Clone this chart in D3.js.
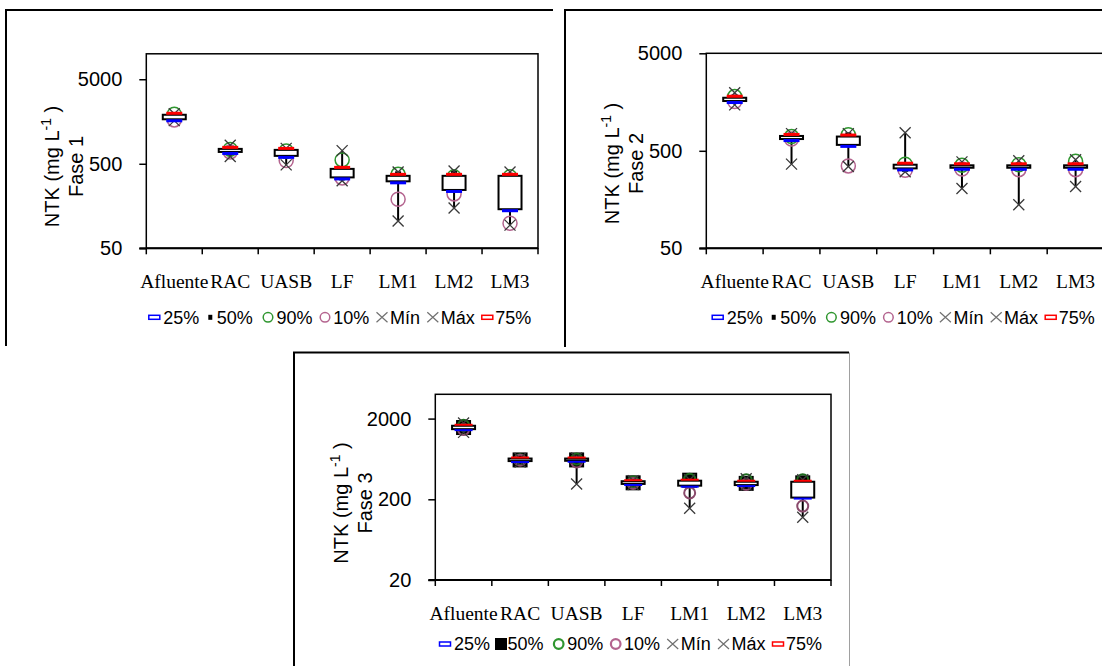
<!DOCTYPE html>
<html>
<head>
<meta charset="utf-8">
<script src="https://cdn.jsdelivr.net/npm/d3@7"></script>
<style>
  html, body { margin: 0; padding: 0; background: #fff; }
  svg { display: block; }
</style>
</head>
<body>
<svg id="chart" width="1102" height="666"></svg>
<script>
// Sampling points along the treatment line
const categories = ["Afluente", "RAC", "UASB", "LF", "LM1", "LM2", "LM3"];
const legendLabels = ["25%", "50%", "90%", "10%", "Mín", "Máx", "75%"];

// NTK (mg/L) percentiles, Fase 1
const f1P25 = [1680, 690, 620, 345, 310, 245, 145];
const f1P50 = [1800, 720, 625, 345, 375, 385, 360];
const f1P90 = [1930, 740, 710, 555, 375, 350, 350];
const f1P10 = [1650, 690, 545, 340, 190, 220, 99];
const f1Min = [1620, 610, 485, 315, 105, 150, 94];
const f1Max = [1950, 830, 760, 715, 400, 410, 400];
const f1P75 = [1900, 750, 730, 435, 360, 360, 360];
const f1Ticks = [50, 500, 5000];

// Fase 2
const f2P25 = [1620, 660, 575, 330, 335, 335, 335];
const f2P50 = [1700, 690, 720, 325, 345, 345, 345];
const f2P90 = [1800, 700, 730, 365, 355, 360, 390];
const f2P10 = [1600, 660, 350, 315, 325, 320, 320];
const f2Min = [1480, 365, 345, 305, 205, 140, 215];
const f2Max = [1970, 750, 750, 765, 385, 395, 405];
const f2P75 = [1750, 710, 700, 360, 355, 355, 355];
const f2Ticks = [50, 500, 5000];

// Fase 3
const f3P25 = [1480, 595, 600, 310, 295, 300, 210];
const f3P50 = [1550, 615, 615, 320, 345, 315, 320];
const f3P90 = [1650, 620, 630, 330, 355, 350, 350];
const f3P10 = [1460, 610, 580, 315, 240, 305, 165];
const f3Min = [1350, 580, 310, 305, 155, 300, 120];
const f3Max = [1760, 640, 650, 340, 350, 360, 350];
const f3P75 = [1630, 640, 640, 335, 340, 330, 330];
const f3Ticks = [20, 200, 2000];

const COLORS = {
  p25: "#0000ff",
  p75: "#ff0000",
  p50: "#000000",
  p90: "#2f962f",
  p10: "#b4648f",
  xmark: "#3a3a3a"
};
const SANS = "'Liberation Sans', Arial, sans-serif";
const SERIF = "'Liberation Serif', 'Times New Roman', serif";

const panels = [
  {
    title: "Fase 1", ticks: f1Ticks, domain: [50, 10000],
    p25: f1P25, p50: f1P50, p90: f1P90, p10: f1P10, min: f1Min, max: f1Max, p75: f1P75,
    left: 146.3, right: 538, top: 53.8, bottom: 248.3,
    titleY: 166.5, legendX: 148.3, legendY: 317.3,
    squareSize: 6, circleR: 7, circleW: 1.5, green: COLORS.p90, pink: COLORS.p10,
    dashW: 16, dashH: 3,
    frame: [[6, 346], [6, 10], [553, 10]]
  },
  {
    title: "Fase 2", ticks: f2Ticks, domain: [50, 5000],
    p25: f2P25, p50: f2P50, p90: f2P90, p10: f2P10, min: f2Min, max: f2Max, p75: f2P75,
    left: 706.3, right: 1104, top: 53.3, bottom: 248.3,
    titleY: 163.5, legendX: 711.7, legendY: 317.3,
    squareSize: 6, circleR: 7, circleW: 1.5, green: COLORS.p90, pink: COLORS.p10,
    dashW: 16, dashH: 3,
    frame: [[565, 347], [565, 10], [1102, 10]]
  },
  {
    title: "Fase 3", ticks: f3Ticks, domain: [20, 4000],
    p25: f3P25, p50: f3P50, p90: f3P90, p10: f3P10, min: f3Min, max: f3Max, p75: f3P75,
    left: 435.3, right: 831, top: 394.3, bottom: 580,
    titleY: 503, legendX: 439, legendY: 644,
    squareSize: 15, circleR: 5.5, circleW: 2, green: "#1e6b1e", pink: "#8a4a6c",
    dashW: 18, dashH: 2,
    frame: [[294, 666], [294, 352.5], [849, 352.5]],
    rightEdge: [[849.5, 352.5], [849.5, 666]]
  }
];

const svg = d3.select("#chart");
const xMark = (sx, sy) => `M${-sx},${-sy}L${sx},${sy}M${-sx},${sy}L${sx},${-sy}`;

panels.forEach(p => {
  const g = svg.append("g");

  // panel border
  g.append("path")
    .attr("d", d3.line()(p.frame))
    .attr("fill", "none").attr("stroke", "#000").attr("stroke-width", 2);
  if (p.rightEdge) {
    g.append("path")
      .attr("d", d3.line()(p.rightEdge))
      .attr("fill", "none").attr("stroke", "#a0a0a0").attr("stroke-width", 1);
  }

  const x = d3.scaleBand().domain(categories).range([p.left, p.right]);
  const y = d3.scaleLog().domain(p.domain).range([p.bottom, p.top]);
  const cx = c => x(c) + x.bandwidth() / 2;

  // plot area
  g.append("rect")
    .attr("x", p.left).attr("y", p.top)
    .attr("width", p.right - p.left).attr("height", p.bottom - p.top)
    .attr("fill", "#fff").attr("stroke", "#000").attr("stroke-width", 1.5);

  // y axis
  const ya = g.append("g")
    .attr("transform", `translate(${p.left},0)`)
    .call(d3.axisLeft(y).tickValues(p.ticks).tickFormat(d3.format("d")).tickSize(7).tickPadding(17));
  ya.select(".domain").remove();
  ya.selectAll(".tick line").attr("stroke", "#000").attr("stroke-width", 1.5);
  ya.selectAll(".tick text")
    .attr("font-family", SANS).attr("font-size", 20).attr("fill", "#000");

  // x axis: category labels centred, tick marks on category boundaries
  const xa = g.append("g")
    .attr("transform", `translate(0,${p.bottom})`)
    .call(d3.axisBottom(x).tickSize(0).tickPadding(26));
  xa.select(".domain").remove();
  xa.selectAll(".tick text")
    .attr("font-family", SERIF).attr("font-size", 19.5).attr("fill", "#000");

  const bounds = categories.map(c => x(c)).concat([p.right]);
  g.selectAll("line.xtick").data(bounds).join("line")
    .attr("class", "xtick")
    .attr("x1", d => d).attr("x2", d => d)
    .attr("y1", p.bottom).attr("y2", p.bottom + 6)
    .attr("stroke", "#000").attr("stroke-width", 1.5);
  g.append("line")
    .attr("x1", p.left - 7).attr("x2", p.right)
    .attr("y1", p.bottom).attr("y2", p.bottom)
    .attr("stroke", "#000").attr("stroke-width", 2);

  // y-axis title (two lines)
  const t1 = g.append("text")
    .attr("transform", `translate(${p.left - 87},${p.titleY}) rotate(-90)`)
    .attr("text-anchor", "middle")
    .attr("font-family", SANS).attr("font-size", 20).attr("fill", "#000");
  t1.append("tspan").text("NTK (mg L");
  t1.append("tspan").attr("font-size", 14).attr("dy", -8).text("-1");
  t1.append("tspan").attr("dy", 8).text(" )");
  g.append("text")
    .attr("transform", `translate(${p.left - 63},${p.titleY}) rotate(-90)`)
    .attr("text-anchor", "middle")
    .attr("font-family", SANS).attr("font-size", 20).attr("fill", "#000")
    .text(p.title);

  // box-plot marks
  const rows = categories.map((c, i) => ({
    c, p25: p.p25[i], p50: p.p50[i], p90: p.p90[i], p10: p.p10[i],
    min: p.min[i], max: p.max[i], p75: p.p75[i]
  }));
  const marks = g.append("g");

  // whisker min..max
  marks.selectAll("line.whisker").data(rows).join("line")
    .attr("class", "whisker")
    .attr("x1", d => cx(d.c)).attr("x2", d => cx(d.c))
    .attr("y1", d => y(d.min)).attr("y2", d => y(d.max))
    .attr("stroke", "#000").attr("stroke-width", 2);

  // 50% square
  const s = p.squareSize;
  marks.selectAll("rect.med").data(rows).join("rect")
    .attr("class", "med")
    .attr("x", d => cx(d.c) - s / 2).attr("y", d => y(d.p50) - s / 2)
    .attr("width", s).attr("height", s).attr("fill", COLORS.p50);

  // 90% and 10% circles
  [["p90", p.green], ["p10", p.pink]].forEach(([k, col]) => {
    marks.selectAll(`circle.${k}`).data(rows).join("circle")
      .attr("class", k)
      .attr("cx", d => cx(d.c)).attr("cy", d => y(d[k]))
      .attr("r", p.circleR)
      .attr("fill", "none").attr("stroke", col).attr("stroke-width", p.circleW);
  });

  // min / max crosses
  ["min", "max"].forEach(k => {
    marks.selectAll(`path.${k}`).data(rows).join("path")
      .attr("class", k)
      .attr("transform", d => `translate(${cx(d.c)},${y(d[k])})`)
      .attr("d", xMark(5.5, 5.5))
      .attr("fill", "none").attr("stroke", COLORS.xmark).attr("stroke-width", 1.3);
  });

  // 25%-75% box
  marks.selectAll("rect.box").data(rows).join("rect")
    .attr("class", "box")
    .attr("x", d => cx(d.c) - 11.5).attr("y", d => y(d.p75))
    .attr("width", 23).attr("height", d => Math.max(0, y(d.p25) - y(d.p75)))
    .attr("fill", "#fff").attr("stroke", "#000").attr("stroke-width", 2);

  // 75% dash sits on the top edge, 25% dash on the bottom edge
  marks.selectAll("rect.p75").data(rows).join("rect")
    .attr("class", "p75")
    .attr("x", d => cx(d.c) - p.dashW / 2).attr("y", d => y(d.p75) - p.dashH)
    .attr("width", p.dashW).attr("height", p.dashH).attr("fill", COLORS.p75);
  marks.selectAll("rect.p25").data(rows).join("rect")
    .attr("class", "p25")
    .attr("x", d => cx(d.c) - p.dashW / 2).attr("y", d => y(d.p25))
    .attr("width", p.dashW).attr("height", p.dashH).attr("fill", COLORS.p25);

  // legend
  const symCenter = [6, 62, 119.7, 176.7, 233.7, 284.5, 339];
  const txtOff = [15, 68.5, 128.2, 185, 241.7, 292.4, 347];
  const big = s > 6;
  const lg = g.append("g").attr("transform", `translate(${p.legendX},${p.legendY})`);
  legendLabels.forEach((lab, i) => {
    const sx = symCenter[i];
    if (i === 0 || i === 6) {
      lg.append("rect")
        .attr("x", sx - 5.5).attr("y", -2).attr("width", 11).attr("height", 4)
        .attr("fill", "#fff").attr("stroke", i === 0 ? COLORS.p25 : COLORS.p75).attr("stroke-width", 1.5);
    } else if (i === 1) {
      const w = big ? 12 : 4, h = big ? 12 : 5;
      lg.append("rect")
        .attr("x", sx - w / 2).attr("y", -h / 2).attr("width", w).attr("height", h)
        .attr("fill", "#000");
    } else if (i === 2 || i === 3) {
      lg.append("circle")
        .attr("cx", sx).attr("cy", 0).attr("r", 4.8)
        .attr("fill", "none").attr("stroke", i === 2 ? COLORS.p90 : COLORS.p10)
        .attr("stroke-width", big ? 2.2 : 1.5);
    } else {
      lg.append("path")
        .attr("transform", `translate(${sx},0)`)
        .attr("d", xMark(5.5, 5))
        .attr("fill", "none").attr("stroke", "#707070").attr("stroke-width", 1.2);
    }
    lg.append("text")
      .attr("x", txtOff[i]).attr("y", 0).attr("dy", "0.35em")
      .attr("font-family", SANS).attr("font-size", 18).attr("fill", "#000")
      .text(lab);
  });
});
</script>
</body>
</html>
